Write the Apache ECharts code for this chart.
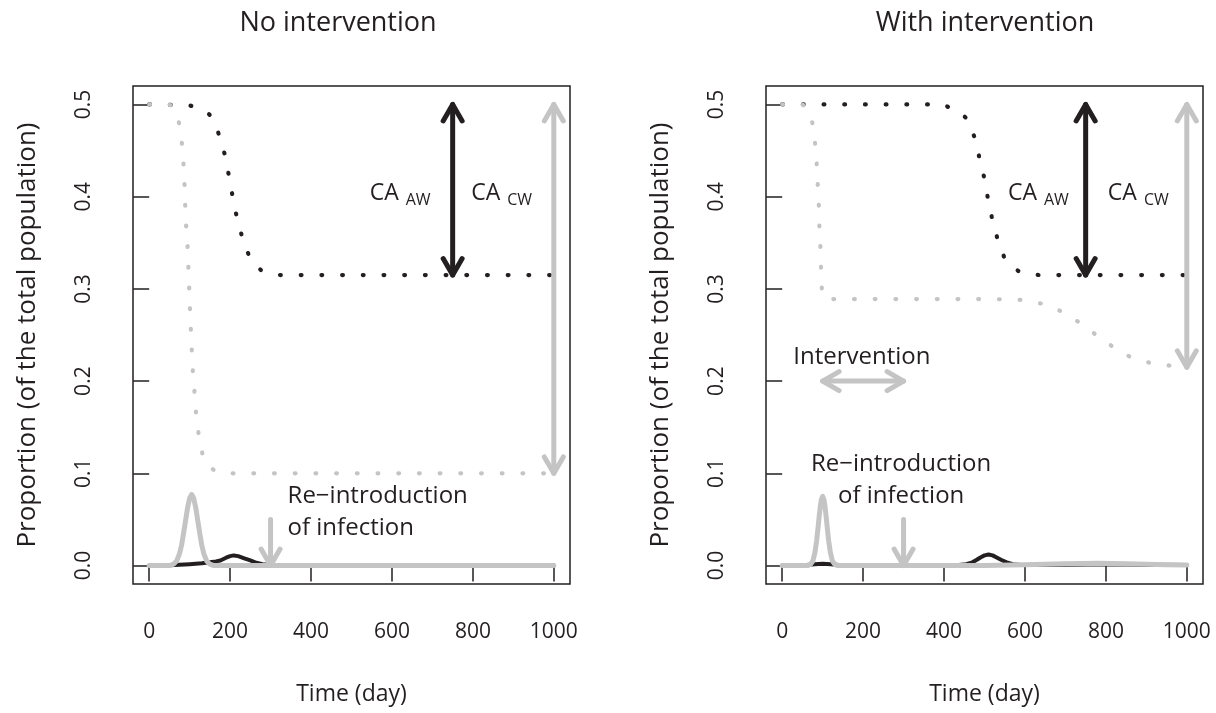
<!DOCTYPE html>
<html><head><meta charset="utf-8">
<script src="https://cdn.jsdelivr.net/npm/echarts@6/dist/echarts.min.js"></script>
<style>html,body{margin:0;padding:0;background:#fff}#c{width:1216px;height:713px}</style>
</head><body><div id="c"></div>
<script>
// ---- ticks & labels ----
const xTicks = [0, 200, 400, 600, 800, 1000];
const yTicks = [0, 0.1, 0.2, 0.3, 0.4, 0.5];
const panelTitles = ['No intervention', 'With intervention'];
const xName = 'Time (day)';
const yName = 'Proportion (of the total population)';

// ---- left panel: no intervention ----
const L_greyDotX = [0, 50, 60, 70, 74, 78, 81, 85, 87.5, 89, 91.5, 95, 97, 99, 101, 103, 105.5, 108, 112, 116, 122, 132, 145, 162, 180, 1000];
const L_greyDotY = [0.5, 0.5, 0.497, 0.488, 0.479, 0.468, 0.457, 0.434, 0.412, 0.39, 0.367, 0.345, 0.322, 0.30, 0.277, 0.255, 0.232, 0.21, 0.188, 0.164, 0.143, 0.12, 0.108, 0.103, 0.1, 0.1];
const L_blackDotX = [0, 100, 130, 149, 160, 171, 186, 196, 205, 215, 228, 245, 260, 277, 300, 324, 1000];
const L_blackDotY = [0.5, 0.499, 0.495, 0.489, 0.48, 0.469, 0.447, 0.425, 0.403, 0.381, 0.359, 0.338, 0.327, 0.32, 0.317, 0.315, 0.315];
const L_greyLineX = [0, 50, 60, 68, 75, 80, 85, 90, 95, 100, 105, 110, 115, 120, 125, 130, 135, 142, 150, 160, 1000];
const L_greyLineY = [0, 0, 0.0015, 0.005, 0.013, 0.022, 0.035, 0.049, 0.063, 0.073, 0.077, 0.073, 0.063, 0.049, 0.035, 0.022, 0.013, 0.005, 0.0015, 0, 0];
const L_blackLineX = [0, 50, 100, 130, 150, 165, 176, 190, 200, 209, 220, 235, 250, 265, 280, 300, 320, 1000];
const L_blackLineY = [0, 0.0003, 0.0015, 0.0025, 0.0035, 0.0045, 0.0055, 0.0085, 0.0102, 0.011, 0.0102, 0.0078, 0.0055, 0.003, 0.0015, 0.0005, 0, 0];
// arrows: [x1, y1, x2, y2, heads]
const L_blackArrows = [[750, 0.5, 750, 0.315, 2]];
const L_greyArrows = [[1000, 0.5, 1000, 0.1, 2], [300, 0.05, 300, 0, 1]];
const L_subLabels = [['CA', 'AW'], ['CA', 'CW']];
const L_subLabelAt = [[624, 0.404], [875, 0.404]];
const L_notes = ['Re\u2212introduction\nof infection'];
const L_noteAt = [[342, 0.058]];

// ---- right panel: with intervention ----
const R_greyDotX = [0, 50, 60, 70, 75, 81.5, 85.6, 88, 90.6, 92, 94.6, 96, 98, 101, 106, 127, 300, 520, 589, 642, 688, 733, 773, 815, 857, 907, 958, 1000];
const R_greyDotY = [0.5, 0.5, 0.497, 0.488, 0.479, 0.457, 0.434, 0.412, 0.39, 0.367, 0.345, 0.322, 0.30, 0.291, 0.289, 0.289, 0.289, 0.289, 0.288, 0.284, 0.276, 0.264, 0.251, 0.238, 0.227, 0.220, 0.2168, 0.215];
const R_blackDotX = [0, 400, 411, 430, 453, 475, 487, 499, 508, 518, 531, 548, 565, 585, 610, 635, 1000];
const R_blackDotY = [0.5, 0.5, 0.497, 0.494, 0.486, 0.465, 0.443, 0.421, 0.399, 0.378, 0.356, 0.335, 0.325, 0.319, 0.316, 0.315, 0.315];
const R_greyLineX = [0, 64, 70, 76, 81, 85, 88, 91, 94, 97, 100, 103, 106, 109, 112, 115, 119, 124, 130, 136, 500, 600, 700, 780, 850, 950, 1000];
const R_greyLineY = [0, 0, 0.0012, 0.0052, 0.0142, 0.0265, 0.0385, 0.0516, 0.0635, 0.072, 0.075, 0.072, 0.0635, 0.0516, 0.0385, 0.0265, 0.0142, 0.0052, 0.0012, 0, 0, 0.0008, 0.002, 0.0025, 0.002, 0.001, 0.0005];
const R_blackLineX = [0, 60, 80, 100, 120, 140, 160, 400, 430, 455, 470, 480, 490, 500, 510, 520, 530, 542, 555, 570, 590, 700, 800, 900, 1000];
const R_blackLineY = [0, 0.0005, 0.0015, 0.002, 0.0015, 0.0005, 0, 0, 0.0003, 0.0015, 0.0035, 0.006, 0.0088, 0.011, 0.012, 0.011, 0.0088, 0.006, 0.0035, 0.0015, 0.0005, 0.001, 0.0015, 0.001, 0.0005];
const R_blackArrows = [[750, 0.5, 750, 0.315, 2]];
const R_greyArrows = [[1000, 0.5, 1000, 0.215, 2], [100, 0.2, 300, 0.2, 2], [300, 0.05, 300, 0, 1]];
const R_subLabels = [['CA', 'AW'], ['CA', 'CW']];
const R_subLabelAt = [[637, 0.404], [884, 0.404]];
const R_notes = ['Re\u2212introduction\nof infection', 'Intervention'];
const R_noteAt = [[294, 0.093], [197, 0.226]];

// ---- styling ----
const INK = '#231f20';
const GREY = '#c4c4c4';
const FONT = "'Open Sans', 'Noto Sans', sans-serif";
const zip = (xs, ys) => xs.map((x, i) => [x, ys[i]]);

function dotted(gi, xs, ys, color, z) {
  return { type: 'line', xAxisIndex: gi, yAxisIndex: gi, data: zip(xs, ys), showSymbol: false, symbol: 'none',
    silent: true, z, clip: false,
    lineStyle: { color, width: 4.2, type: [0.8, 19.9], cap: 'round', join: 'round' } };
}
function solid(gi, xs, ys, color, width, z) {
  return { type: 'line', xAxisIndex: gi, yAxisIndex: gi, data: zip(xs, ys), showSymbol: false, symbol: 'none',
    silent: true, z, clip: false,
    lineStyle: { color, width, cap: 'round', join: 'round' } };
}
function arrows(gi, data, color) {
  return { type: 'custom', xAxisIndex: gi, yAxisIndex: gi, data, silent: true, z: 10, clip: false,
    encode: { x: [0, 2], y: [1, 3] },
    renderItem: (params, api) => {
      const p1 = api.coord([api.value(0), api.value(1)]);
      const p2 = api.coord([api.value(2), api.value(3)]);
      const heads = api.value(4);
      const style = { stroke: color, lineWidth: 5, lineCap: 'round', lineJoin: 'round', fill: 'none' };
      const head = (tip, from) => {
        const a = Math.atan2(tip[1] - from[1], tip[0] - from[0]);
        const Lh = 19, w = Math.PI / 6;
        return { type: 'polyline', shape: { points: [
          [tip[0] - Lh * Math.cos(a - w), tip[1] - Lh * Math.sin(a - w)], tip,
          [tip[0] - Lh * Math.cos(a + w), tip[1] - Lh * Math.sin(a + w)]] }, style };
      };
      const kids = [{ type: 'line', shape: { x1: p1[0], y1: p1[1], x2: p2[0], y2: p2[1] }, style }];
      kids.push(head(p2, p1));
      if (heads === 2) kids.push(head(p1, p2));
      return { type: 'group', children: kids };
    } };
}
function subText(gi, at, labels) {
  return { type: 'custom', xAxisIndex: gi, yAxisIndex: gi, data: at, silent: true, z: 11, clip: false,
    renderItem: (params, api) => {
      const p = api.coord([api.value(0), api.value(1)]);
      const lab = labels[params.dataIndex];
      return { type: 'group', children: [
        { type: 'text', x: p[0] - 3, y: p[1], style: { text: lab[0], fontSize: 23, fontFamily: FONT, fill: INK,
          align: 'right', verticalAlign: 'middle', textAlign: 'right', textVerticalAlign: 'middle' } },
        { type: 'text', x: p[0] + 4, y: p[1] + 7, style: { text: lab[1], fontSize: 16, fontFamily: FONT, fill: INK,
          align: 'left', verticalAlign: 'middle', textAlign: 'left', textVerticalAlign: 'middle' } }
      ] };
    } };
}
function notes(gi, at, texts, align) {
  return { type: 'custom', xAxisIndex: gi, yAxisIndex: gi, data: at, silent: true, z: 11, clip: false,
    renderItem: (params, api) => {
      const p = api.coord([api.value(0), api.value(1)]);
      return { type: 'text', x: p[0], y: p[1], style: { text: texts[params.dataIndex], fontSize: 24, fontFamily: FONT,
        fill: INK, lineHeight: 32, align, verticalAlign: 'middle', textAlign: align, textVerticalAlign: 'middle' } };
    } };
}

const gridLefts = [133, 766];
const grids = gridLefts.map(l => ({ left: l, top: 86, width: 437, height: 498, show: true,
  borderColor: INK, borderWidth: 1.5, backgroundColor: 'transparent' }));
const xAxes = [0, 1].map(gi => ({ type: 'value', gridIndex: gi, min: -40, max: 1040,
  axisLine: { show: false }, splitLine: { show: false },
  axisTick: { show: true, customValues: xTicks, length: 16, inside: false, lineStyle: { color: INK, width: 1.5 } },
  axisLabel: { customValues: xTicks, margin: 38, fontSize: 21, fontFamily: FONT, color: INK, formatter: v => String(v) },
  name: xName, nameLocation: 'middle', nameGap: 99,
  nameTextStyle: { fontSize: 23, fontFamily: FONT, color: INK } }));
const yAxes = [0, 1].map(gi => ({ type: 'value', gridIndex: gi, min: -0.02, max: 0.52,
  axisLine: { show: false }, splitLine: { show: false },
  axisTick: { show: true, customValues: yTicks, length: 16, inside: false, lineStyle: { color: INK, width: 1.5 } },
  axisLabel: { customValues: yTicks, rotate: 90, margin: 38, fontSize: 21, fontFamily: FONT, color: INK,
    align: 'center', verticalAlign: 'bottom', formatter: v => v.toFixed(1) },
  name: yName, nameLocation: 'middle', nameGap: 92, nameRotate: 90,
  nameTextStyle: { fontSize: 26, fontFamily: FONT, color: INK } }));

const titleX = [338, 985];
const graphics = panelTitles.map((t, i) => ({ type: 'text', x: titleX[i], y: 23,
  style: { text: t, fontSize: 27, fontFamily: FONT, fill: INK, align: 'center', verticalAlign: 'middle',
    textAlign: 'center', textVerticalAlign: 'middle' } }));

const chart = echarts.init(document.getElementById('c'), null, { renderer: 'canvas' });
chart.setOption({
  animation: false,
  backgroundColor: '#fff',
  grid: grids, xAxis: xAxes, yAxis: yAxes, graphic: graphics,
  series: [
    dotted(0, L_blackDotX, L_blackDotY, INK, 2),
    dotted(0, L_greyDotX, L_greyDotY, GREY, 3),
    solid(0, L_blackLineX, L_blackLineY, INK, 4, 4),
    solid(0, L_greyLineX, L_greyLineY, GREY, 5, 5),
    arrows(0, L_blackArrows, INK),
    arrows(0, L_greyArrows, GREY),
    subText(0, L_subLabelAt, L_subLabels),
    notes(0, L_noteAt, L_notes, 'left'),
    dotted(1, R_blackDotX, R_blackDotY, INK, 2),
    dotted(1, R_greyDotX, R_greyDotY, GREY, 3),
    solid(1, R_blackLineX, R_blackLineY, INK, 4, 4),
    solid(1, R_greyLineX, R_greyLineY, GREY, 5, 5),
    arrows(1, R_blackArrows, INK),
    arrows(1, R_greyArrows, GREY),
    subText(1, R_subLabelAt, R_subLabels),
    notes(1, R_noteAt, R_notes, 'center')
  ]
});
</script></body></html>
